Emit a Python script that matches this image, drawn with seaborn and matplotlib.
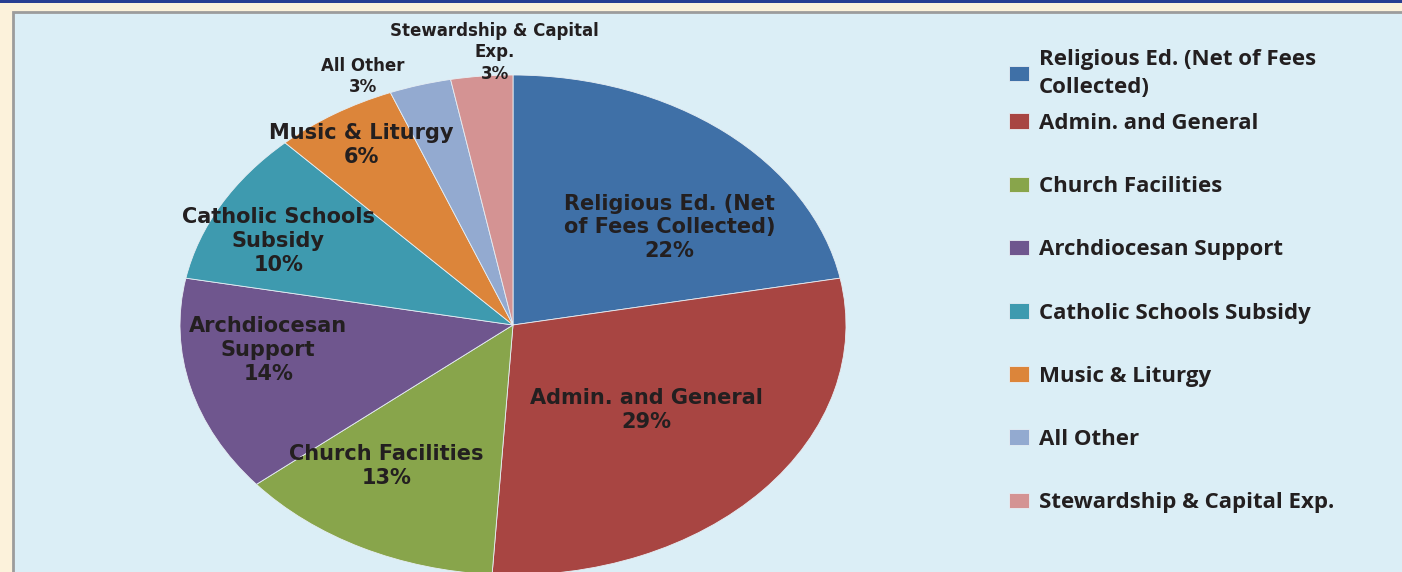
import matplotlib
matplotlib.use("Agg")
import matplotlib.pyplot as plt
from matplotlib.patches import Rectangle
import seaborn as sns

# data
categorias = ["Religious Ed. (Net of Fees Collected)", "Admin. and General",
              "Church Facilities", "Archdiocesan Support",
              "Catholic Schools Subsidy", "Music & Liturgy", "All Other",
              "Stewardship & Capital Exp."]
porcentajes = [22, 29, 13, 14, 10, 6, 3, 3]
etiquetas_pie = ["Religious Ed. (Net\nof Fees Collected)", "Admin. and General",
                 "Church Facilities", "Archdiocesan\nSupport",
                 "Catholic Schools\nSubsidy", "Music & Liturgy", "All Other",
                 "Stewardship & Capital\nExp."]
etiquetas_leyenda = ["Religious Ed. (Net of Fees\nCollected)", "Admin. and General",
                     "Church Facilities", "Archdiocesan Support",
                     "Catholic Schools Subsidy", "Music & Liturgy", "All Other",
                     "Stewardship & Capital Exp."]
colores = ["#3F70A7", "#A84542", "#88A54B", "#6F568E",
           "#3E9AAF", "#DC853A", "#93AAD0", "#D49393"]

# label placement (axes data units) and size
pos_etiquetas = [(0.47, 0.39), (0.40, -0.34), (-0.38, -0.565), (-0.735, -0.10),
                 (-0.705, 0.335), (-0.455, 0.72), (-0.45, 0.995), (-0.055, 1.09)]
tam_etiquetas = [15, 15, 15, 15, 15, 15, 12, 12]

sns.set_theme(style="white")
paleta = sns.color_palette(colores)

fig = plt.figure(figsize=(14.02, 5.72), dpi=100)
fig.patch.set_facecolor("#FCF2DB")

# top bar and panel
fig.add_artist(Rectangle((0, 1 - 3 / 572), 1, 3 / 572, transform=fig.transFigure,
                         facecolor="#283F92", edgecolor="none", zorder=-10))
fig.add_artist(Rectangle((13 / 1402, -0.02), 1.0, 1.02 - 12 / 572, transform=fig.transFigure,
                         facecolor="#DBEEF6", edgecolor="#9C9C9C", linewidth=2, zorder=-10))

ax = fig.add_axes([180 / 1402, -3 / 572, 666 / 1402, 500 / 572])
ax.set_zorder(5)
ax.patch.set_visible(False)
wedges, _ = ax.pie(porcentajes, colors=paleta, startangle=90, counterclock=False,
                   wedgeprops=dict(edgecolor="#E6EEF4", linewidth=0.6))
ax.set_aspect("auto")
ax.set_xlim(-1, 1)
ax.set_ylim(-1, 1)
ax.axis("off")

for i in range(len(porcentajes)):
    x, y = pos_etiquetas[i]
    ax.text(x, y, f"{etiquetas_pie[i]}\n{porcentajes[i]}%", ha="center", va="center",
            multialignment="center", fontsize=tam_etiquetas[i], fontweight="bold",
            family="DejaVu Sans", color="#231F20", linespacing=1.24, clip_on=False)

fuente_leyenda = dict(family="Open Sans", weight="bold", size=16)
leg1 = fig.legend(wedges[:1], etiquetas_leyenda[:1], loc="upper left",
                  bbox_to_anchor=(1000 / 1402, 1 - 40 / 572), frameon=False,
                  prop=fuente_leyenda, handlelength=0.9, handleheight=0.7,
                  handletextpad=0.45, borderaxespad=0)
leg2 = fig.legend(wedges[1:], etiquetas_leyenda[1:], loc="upper left",
                  bbox_to_anchor=(1000 / 1402, 1 - 104 / 572), frameon=False,
                  prop=fuente_leyenda, handlelength=0.9, handleheight=0.7,
                  handletextpad=0.45, labelspacing=1.9, borderaxespad=0)
for leg in (leg1, leg2):
    leg.set_zorder(6)
    for t in leg.get_texts():
        t.set_color("#231F20")
        t.set_linespacing(1.45)

fig.savefig("out.png", dpi=100, facecolor=fig.get_facecolor())
